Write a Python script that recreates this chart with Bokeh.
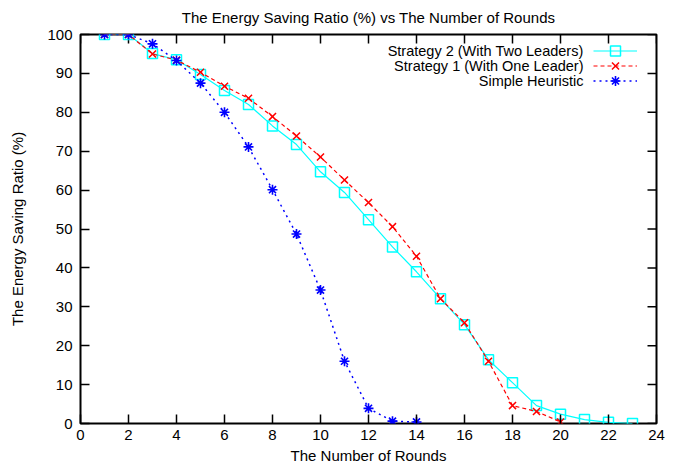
import math
from bokeh.plotting import figure
from bokeh.models import Range1d, FixedTicker, Legend, LegendItem, Label
from bokeh.embed import file_html
from bokeh.resources import INLINE

FONT = "Liberation Sans"

# ---- data ----
rounds_s2 = list(range(1, 24))
ratio_s2 = [100, 100, 95.1, 93.5, 89.7, 85.6, 82.0, 76.5, 71.7, 64.7,
            59.4, 52.4, 45.4, 39.0, 32.1, 25.4, 16.4, 10.5, 4.6, 2.4,
            1.0, 0.3, 0.0]
rounds_s1 = list(range(1, 21))
ratio_s1 = [100, 100, 95.0, 93.4, 90.3, 86.7, 83.6, 78.9, 73.9, 68.5,
            62.6, 56.8, 50.6, 43.0, 32.1, 25.9, 16.0, 4.6, 3.1, 0.4]
rounds_h = list(range(1, 15))
ratio_h = [100, 100, 97.6, 93.3, 87.5, 80.0, 71.1, 60.1, 48.7, 34.3,
           16.0, 3.9, 0.6, 0.4]

x_ticks = list(range(0, 25, 2))
y_ticks = list(range(0, 101, 10))

series_names = ["Strategy 2 (With Two Leaders)",
                "Strategy 1 (With One Leader)",
                "Simple Heuristic"]
title_text = "The Energy Saving Ratio (%) vs The Number of Rounds"
x_label = "The Number of Rounds"
y_label = "The Energy Saving Ratio (%)"

X_MIN, X_MAX = 0, 24
Y_MIN, Y_MAX = 0, 100

p = figure(width=675, height=467, x_range=Range1d(X_MIN, X_MAX), y_range=Range1d(Y_MIN, Y_MAX),
           output_backend="svg", toolbar_location=None, title=title_text,
           x_axis_label=x_label, y_axis_label=y_label,
           min_border_left=80, min_border_right=19, min_border_top=34, min_border_bottom=44)

p.title.text_font = FONT
p.title.text_font_size = "15px"
p.title.text_font_style = "normal"
p.title.text_color = "black"
p.title.align = "center"
p.title.vertical_align = "top"
p.title.standoff = 13

p.xgrid.visible = False
p.ygrid.visible = False
p.outline_line_color = "black"
p.outline_line_width = 2
p.background_fill_color = "white"
p.border_fill_color = "white"

p.xaxis.ticker = FixedTicker(ticks=x_ticks)
p.yaxis.ticker = FixedTicker(ticks=y_ticks)

for ax in p.axis:
    ax.major_tick_in = 9
    ax.major_tick_out = 0
    ax.minor_tick_in = 0
    ax.minor_tick_out = 0
    ax.major_tick_line_color = "black"
    ax.major_tick_line_width = 1.5
    ax.axis_line_color = None
    ax.major_label_text_font = FONT
    ax.major_label_text_font_size = "15px"
    ax.major_label_text_color = "black"
    ax.axis_label_text_font = FONT
    ax.axis_label_text_font_size = "15px"
    ax.axis_label_text_font_style = "normal"
    ax.axis_label_text_color = "black"

p.xaxis.major_label_standoff = 6
p.xaxis.axis_label_standoff = 4
p.yaxis.major_label_standoff = 8
p.yaxis.axis_label_standoff = 18

# mirrored ticks on the top and right edges (gnuplot style)
p.ray(x=x_ticks, y=[Y_MAX] * len(x_ticks), length=9, length_units="screen",
      angle=-90, angle_units="deg", line_color="black", line_width=1.5)
p.ray(x=[X_MAX] * len(y_ticks), y=y_ticks, length=9, length_units="screen",
      angle=180, angle_units="deg", line_color="black", line_width=1.5)

l2 = p.line(rounds_s2, ratio_s2, line_color="#00FFFF", line_width=1.2)
m2 = p.scatter(rounds_s2, ratio_s2, marker="square", size=10, line_color="#00FFFF",
               fill_color=None, line_width=1.5)
l1 = p.line(rounds_s1, ratio_s1, line_color="#FF0000", line_width=1.2, line_dash="4 3")
m1 = p.scatter(rounds_s1, ratio_s1, marker="x", size=10, line_color="#FF0000", line_width=1.5)
lh = p.line(rounds_h, ratio_h, line_color="#0000FF", line_width=1.5, line_dash="2 4")
mh = p.scatter(rounds_h, ratio_h, marker="asterisk", size=10, line_color="#0000FF", line_width=1.6)

# legend (gnuplot style): one sample per row via Legend, texts right-aligned to their left
row_renderers = [[l2, m2], [l1, m1], [lh, mh]]
row_y = [372.5, 357.5, 342.5]
for name, rends, yy in zip(series_names, row_renderers, row_y):
    lg = Legend(items=[LegendItem(label=" ", renderers=rends)],
                location=(513, yy - 12.5), glyph_width=44, glyph_height=25, label_height=25,
                label_width=5, label_standoff=0, spacing=0, padding=0, margin=0,
                border_line_color=None, background_fill_alpha=0,
                label_text_font=FONT, label_text_font_size="10px")
    p.add_layout(lg)
    p.add_layout(Label(x=503, y=yy, x_units="screen", y_units="screen", text=name,
                       text_align="right", text_baseline="middle", text_font=FONT,
                       text_font_size="14.5px", text_color="black"))

open("out.html", "w").write(file_html(p, INLINE))
